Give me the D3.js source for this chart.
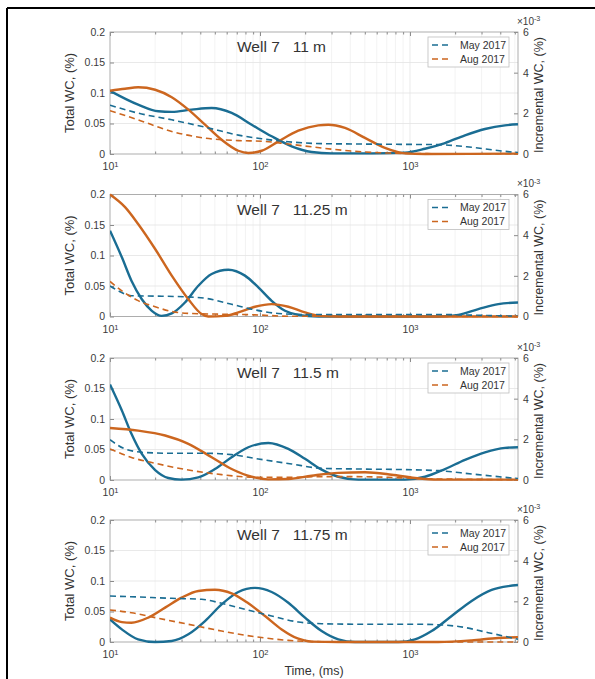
<!DOCTYPE html>
<html>
<head>
<meta charset="utf-8">
<script src="https://cdn.jsdelivr.net/npm/d3@7"></script>
<style>
  body { margin: 0; background: #fff; }
  svg text { font-family: "Liberation Sans", Arial, Helvetica, sans-serif; }
</style>
</head>
<body>
<svg id="chart" width="595" height="679"></svg>
<script>
// depth of each panel
const depths = ["11 m", "11.25 m", "11.5 m", "11.75 m"];
const seriesNames = ["May 2017", "Aug 2017"];

// dashed lines: total WC (%) on the left axis, [time ms, value]
const may11Total = [[10,0.080],[15.4,0.067],[25.8,0.056],[43,0.044],[71.7,0.031],[102.6,0.025],[154.5,0.020],[257.7,0.017],[430,0.0164],[926,0.0158],[1545,0.0153],[2577,0.011],[4299,0.0044],[5248,0.0022]];
const aug11Total = [[10,0.071],[15.4,0.056],[25.8,0.037],[43,0.026],[71.7,0.022],[102.6,0.021],[154.5,0.0164],[257.7,0.0098],[430,0.0044],[717,0.0016],[1545,0.0005],[5248,0.0005]];
const may1125Total = [[10,0.050],[11.4,0.042],[13.9,0.034],[20,0.0334],[31.6,0.0323],[43,0.030],[64.7,0.020],[88,0.012],[132.5,0.0049],[199.5,0.0033],[1545,0.0033],[2577,0.0022],[5248,0.0005]];
const aug1125Total = [[10,0.0575],[12,0.042],[15.4,0.026],[20,0.016],[25.8,0.0082],[35,0.0049],[55.5,0.0038],[92.6,0.0027],[154.5,0.0005],[5248,0]];
const may115Total = [[10,0.066],[12.6,0.051],[17.1,0.045],[25.8,0.0438],[43,0.0438],[64.7,0.0416],[97.5,0.0345],[162.6,0.0263],[257.7,0.0192],[430,0.0181],[926,0.017],[1545,0.0153],[2577,0.0099],[4299,0.0044],[5248,0.0022]];
const aug115Total = [[10,0.051],[13.9,0.037],[20,0.0274],[33.3,0.0164],[55.5,0.0088],[92.6,0.0044],[154.5,0.0044],[257.7,0.0055],[430,0.0055],[717,0.0044],[1196,0.0022],[2577,0.0011],[5248,0.0005]];
const may1175Total = [[10,0.0754],[15.4,0.0738],[25.8,0.0716],[40.8,0.070],[55.5,0.0634],[79.4,0.0536],[119.6,0.0426],[180.1,0.0328],[257.7,0.030],[555,0.029],[1196,0.029],[1995,0.0262],[3329,0.0153],[5248,0.0044]];
const aug1175Total = [[10,0.0525],[13.9,0.048],[20,0.040],[33.3,0.029],[55.5,0.018],[92.6,0.0087],[154.5,0.0027],[257.7,0.0005],[5248,0]];

// solid lines: incremental WC (x10^-3 %) on the right axis, [time ms, value]
const may11Inc = [[10,3.11],[15.4,2.43],[21,2.10],[25.8,2.07],[35,2.18],[47.6,2.26],[64.7,2.02],[88,1.44],[119.6,0.87],[162.6,0.38],[221,0.10],[300.5,0.03],[555,0.03],[926,0.07],[1259,0.26],[1712,0.54],[2326,0.92],[3162,1.23],[4299,1.41],[5248,1.46]];
const aug11Inc = [[10,3.11],[12.6,3.21],[15.4,3.28],[20,3.16],[25.8,2.79],[33.3,2.18],[43,1.44],[55.5,0.70],[71.7,0.16],[83.6,0.05],[102.6,0.16],[132.5,0.62],[180.1,1.15],[244.8,1.41],[285.5,1.44],[368.8,1.28],[501,0.79],[681,0.30],[926,0.03],[1259,0],[5248,0.02]];
const may1125Inc = [[10,4.22],[12,2.91],[13.9,1.76],[16.3,0.85],[19,0.28],[22.1,0.03],[25.8,0.15],[31.6,0.69],[38.8,1.51],[47.6,2.09],[61.5,2.30],[79.4,2.01],[97.5,1.43],[119.6,0.77],[146.8,0.28],[180.1,0.08],[244.8,0],[1545,0],[2100,0.08],[2855,0.36],[3881,0.61],[5248,0.69]];
const aug1125Inc = [[10,6.0],[12.6,5.38],[15.4,4.55],[20,3.32],[25.8,2.01],[33.3,0.85],[40.8,0.12],[45.2,0],[58.4,0.03],[71.7,0.20],[92.6,0.48],[119.6,0.61],[154.5,0.48],[199.5,0.20],[257.7,0.02],[332.8,0],[5248,0]];
const may115Inc = [[10,4.70],[12,3.42],[13.9,2.27],[16.3,1.28],[20,0.49],[24.5,0.10],[30,0.02],[38.8,0.13],[50.1,0.54],[64.7,1.12],[83.6,1.61],[113.6,1.82],[154.5,1.53],[199.5,1.04],[257.7,0.51],[332.8,0.16],[452.5,0.02],[926,0.02],[1259,0.16],[1712,0.54],[2326,0.99],[3162,1.36],[4299,1.58],[5248,1.61]];
const aug115Inc = [[10,2.56],[15.4,2.43],[23.3,2.19],[33.3,1.78],[47.6,1.12],[64.7,0.54],[88,0.16],[113.6,0.03],[154.5,0.05],[221,0.21],[332.8,0.35],[501,0.38],[755,0.26],[1080,0.10],[1545,0.02],[5248,0.02]];
const may1175Inc = [[10,1.11],[12,0.62],[15.4,0.13],[20,0],[25.8,0.05],[33.3,0.38],[43,1.03],[55.5,1.85],[71.7,2.46],[92.6,2.66],[119.6,2.46],[154.5,1.93],[199.5,1.20],[257.7,0.54],[332.8,0.13],[430,0],[836,0],[1080,0.13],[1395,0.54],[1896,1.28],[2577,2.02],[3503,2.56],[4526,2.75],[5248,2.80]];
const aug1175Inc = [[10,1.20],[12,0.98],[13.9,0.95],[18,1.20],[23.3,1.69],[30,2.18],[38.8,2.51],[50.1,2.57],[64.7,2.39],[83.6,1.90],[108,1.28],[139.5,0.62],[180.1,0.16],[221,0.02],[332.8,0],[1545,0],[2577,0.08],[3881,0.20],[5248,0.23]];

const totalTicks = [0, 0.05, 0.1, 0.15, 0.2];
const incTicks = [0, 2, 4, 6];
const timeTicks = [10, 100, 1000];

const panels = [
  { depth: depths[0], total: [may11Total, aug11Total], inc: [may11Inc, aug11Inc] },
  { depth: depths[1], total: [may1125Total, aug1125Total], inc: [may1125Inc, aug1125Inc] },
  { depth: depths[2], total: [may115Total, aug115Total], inc: [may115Inc, aug115Inc] },
  { depth: depths[3], total: [may1175Total, aug1175Total], inc: [may1175Inc, aug1175Inc] }
];

const colors = ["#1a6d93", "#cc661f"];
const plotLeft = 110, plotRight = 518, plotH = 122;
const panelTops = [32, 194.5, 358, 520];

const svg = d3.select("#chart");

// figure frame (top + left edge)
svg.append("line").attr("x1", 7).attr("x2", 595).attr("y1", 8).attr("y2", 8)
  .attr("stroke", "#000").attr("stroke-width", 2);
svg.append("line").attr("x1", 7).attr("x2", 7).attr("y1", 8).attr("y2", 679)
  .attr("stroke", "#000").attr("stroke-width", 2);

const x = d3.scaleLog().domain([10, 5250]).range([plotLeft, plotRight]);
const minorTicks = x.ticks().filter(t => !timeTicks.includes(t));

function supLabel(sel, base, exp) {
  sel.text(null);
  sel.append("tspan").text(base);
  sel.append("tspan").attr("dy", "-0.45em").attr("font-size", "0.72em").text(exp);
}

panels.forEach((p, pi) => {
  const top = panelTops[pi];
  const g = svg.append("g").attr("transform", `translate(0,${top})`);

  const yL = d3.scaleLinear().domain([0, 0.2]).range([plotH, 0]);
  const yR = d3.scaleLinear().domain([0, 6]).range([plotH, 0]);

  const clipId = "clip" + pi;
  g.append("clipPath").attr("id", clipId)
    .append("rect").attr("x", plotLeft).attr("y", -2).attr("width", plotRight - plotLeft).attr("height", plotH + 4);

  // grid
  g.append("g").selectAll("line").data(minorTicks).join("line")
    .attr("x1", d => x(d)).attr("x2", d => x(d)).attr("y1", 0).attr("y2", plotH)
    .attr("stroke", "#f0f0f0").attr("stroke-width", 0.8);
  g.append("g").selectAll("line").data(timeTicks.slice(1)).join("line")
    .attr("x1", d => x(d)).attr("x2", d => x(d)).attr("y1", 0).attr("y2", plotH)
    .attr("stroke", "#e3e3e3").attr("stroke-width", 0.8);
  g.append("g").selectAll("line").data(totalTicks.slice(1, -1)).join("line")
    .attr("x1", plotLeft).attr("x2", plotRight).attr("y1", d => yL(d)).attr("y2", d => yL(d))
    .attr("stroke", "#e3e3e3").attr("stroke-width", 0.8);

  // axes
  const axL = g.append("g").attr("transform", `translate(${plotLeft},0)`)
    .call(d3.axisLeft(yL).tickValues(totalTicks).tickSize(-4).tickPadding(5).tickSizeOuter(0).tickFormat(d => d === 0 ? "0" : String(d)));
  const axR = g.append("g").attr("transform", `translate(${plotRight},0)`)
    .call(d3.axisRight(yR).tickValues(incTicks).tickSize(-4).tickPadding(5).tickSizeOuter(0).tickFormat(d3.format("d")));
  const axB = g.append("g").attr("transform", `translate(0,${plotH})`)
    .call(d3.axisBottom(x).tickValues(timeTicks).tickSize(-4).tickPadding(9).tickSizeOuter(0));
  axB.selectAll(".tick text").each(function(d) {
    supLabel(d3.select(this), "10", String(Math.round(Math.log10(d))));
  });
  const axBm = g.append("g").attr("transform", `translate(0,${plotH})`)
    .call(d3.axisBottom(x).tickValues(minorTicks).tickSize(-2.5).tickFormat("").tickSizeOuter(0));
  const axT = g.append("g")
    .call(d3.axisTop(x).tickValues(timeTicks).tickSize(-4).tickFormat("").tickSizeOuter(0));
  const axTm = g.append("g")
    .call(d3.axisTop(x).tickValues(minorTicks).tickSize(-2.5).tickFormat("").tickSizeOuter(0));

  [axL, axR, axB, axBm, axT, axTm].forEach(a => {
    a.select(".domain").remove();
    a.selectAll(".tick line").attr("stroke", "#8a8a8a");
    a.selectAll(".tick text").attr("fill", "#3a3a3a").attr("font-size", "10.5px");
  });

  g.append("rect").attr("x", plotLeft).attr("y", 0).attr("width", plotRight - plotLeft).attr("height", plotH)
    .attr("fill", "none").attr("stroke", "#9a9a9a").attr("stroke-width", 0.8);

  // exponent above the right axis
  const ex = g.append("text").attr("x", plotRight - 1).attr("y", -7.5).attr("fill", "#3a3a3a").attr("font-size", "10px");
  supLabel(ex, "\u00d710", "-3");

  // curves
  const plotG = g.append("g").attr("clip-path", `url(#${clipId})`);
  const lineL = d3.line().x(d => x(d[0])).y(d => yL(d[1])).curve(d3.curveMonotoneX);
  const lineR = d3.line().x(d => x(d[0])).y(d => yR(d[1])).curve(d3.curveMonotoneX);

  p.inc.forEach((s, i) => {
    plotG.append("path").datum(s).attr("d", lineR)
      .attr("fill", "none").attr("stroke", colors[i]).attr("stroke-width", 2.4);
  });
  p.total.forEach((s, i) => {
    plotG.append("path").datum(s).attr("d", lineL)
      .attr("fill", "none").attr("stroke", colors[i]).attr("stroke-width", 1.6)
      .attr("stroke-dasharray", "6,4");
  });

  // title
  g.append("text").attr("x", 237).attr("y", 20).attr("fill", "#333")
    .attr("font-size", "15.5px").style("white-space", "pre")
    .text("Well 7   " + p.depth);

  // legend
  const lg = g.append("g").attr("transform", "translate(428,5)");
  lg.append("rect").attr("width", 81).attr("height", 30)
    .attr("fill", "#fff").attr("stroke", "#bdbdbd").attr("stroke-width", 0.8);
  seriesNames.forEach((n, i) => {
    const yy = 8 + i * 14;
    lg.append("line").attr("x1", 4).attr("x2", 24).attr("y1", yy).attr("y2", yy)
      .attr("stroke", colors[i]).attr("stroke-width", 1.6).attr("stroke-dasharray", "6,4");
    lg.append("text").attr("x", 32).attr("y", yy).attr("dy", "0.35em")
      .attr("fill", "#333").attr("font-size", "10.5px").text(n);
  });

  // axis labels
  g.append("text").attr("transform", `translate(74,${plotH / 2}) rotate(-90)`)
    .attr("text-anchor", "middle").attr("fill", "#333").attr("font-size", "13px")
    .text("Total WC, (%)");
  g.append("text").attr("transform", `translate(543,${plotH / 2 + 2}) rotate(-90)`)
    .attr("text-anchor", "middle").attr("fill", "#333").attr("font-size", "12.5px")
    .text("Incremental WC, (%)");
});

svg.append("text").attr("x", (plotLeft + plotRight) / 2).attr("y", 675)
  .attr("text-anchor", "middle").attr("fill", "#333").attr("font-size", "12.5px")
  .text("Time, (ms)");
</script>
</body>
</html>
